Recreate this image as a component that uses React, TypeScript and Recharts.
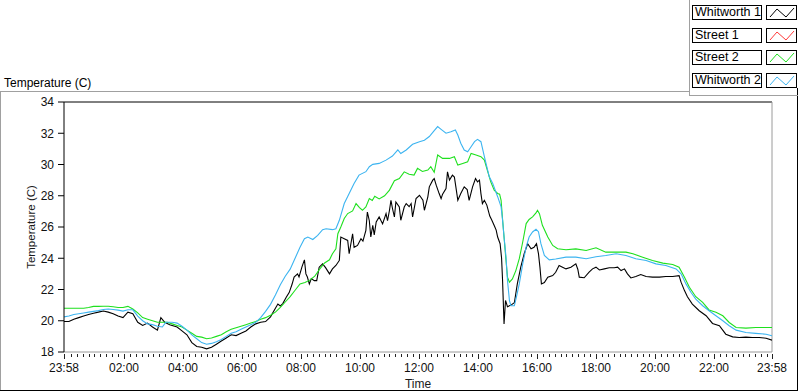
import React from 'react';
import { LineChart, Line, XAxis, YAxis, ReferenceLine, Legend, Label } from 'recharts';

// ---- data (minutes after 23:58, temperature °C) ----
const seriesNames = ['Whitworth 1', 'Street 1', 'Street 2', 'Whitworth 2'];
const seriesColors = ['#000000', '#ff3a3a', '#1ee01e', '#3cb4f0'];

const whitworth1: [number, number][] = [
  [0,19.95],[10,19.95],[20,20.1],[30,20.2],[40,20.3],[50,20.4],[60,20.48],[70,20.55],[80,20.62],[90,20.55],
  [100,20.45],[110,20.3],[120,20.2],[130,20.55],[140,20.45],[150,19.9],[160,19.7],[170,19.85],[180,19.6],[190,19.4],
  [197,20.2],[205,19.9],[215,19.75],[230,19.6],[240,19.35],[250,19.1],[260,18.6],[270,18.35],[280,18.3],[290,18.2],
  [300,18.3],[310,18.5],[320,18.7],[330,18.9],[340,19.1],[350,19.05],[360,19.2],[370,19.35],[380,19.6],[390,19.8],
  [400,19.9],[410,19.95],[420,20.25],[430,20.8],[435,21.07],[440,20.95],[445,21.1],[452,21.5],[458,21.8],[464,22.35],
  [468,22.8],[475,23.0],[478,22.8],[484,23.45],[489,23.9],[492,23.0],[495,22.8],[499,22.36],[503,22.7],[509,22.57],
  [514,22.57],[519,23.43],[526,23.64],[532,23.4],[540,23.0],[546,23.32],[553,23.54],[560,23.86],[563,25.36],[570,25.25],
  [577,25.14],[580,24.29],[587,25.57],[590,24.7],[597,24.82],[604,25.25],[608,25.1],[614,25.79],[617,26.96],[621,26.4],
  [624,25.36],[628,26.11],[631,25.5],[635,26.32],[641,26.64],[648,26.2],[655,26.86],[658,26.4],[662,27.07],[665,27.71],
  [668,27.2],[672,26.64],[675,27.6],[682,27.28],[685,26.43],[692,27.28],[696,27.5],[702,27.3],[706,27.5],[709,26.64],
  [716,27.82],[723,28.03],[730,27.71],[733,27.07],[740,27.93],[743,28.57],[750,29.0],[753,29.1],[757,28.68],[763,28.14],
  [767,27.82],[770,28.1],[777,28.46],[780,29.53],[784,29.0],[790,29.32],[794,29.2],[797,28.57],[801,27.71],[807,28.14],
  [814,28.57],[820,28.4],[824,27.71],[831,28.57],[837,29.1],[841,28.89],[845,29.0],[848,28.14],[851,27.5],[855,27.71],
  [860,27.4],[866,26.7],[870,26.45],[875,26.1],[879,25.8],[882,25.36],[887,24.93],[890,24.0],[892,22.58],[895,19.79],
  [898,21.3],[902,20.9],[909,21.0],[916,21.15],[922,22.36],[929,23.43],[936,24.29],[943,24.93],[950,24.61],[956,24.7],
  [961,24.93],[965,24.3],[968,23.43],[971,22.36],[977,22.45],[984,22.79],[994,22.89],[1000,23.1],[1007,23.54],[1014,23.43],
  [1021,23.32],[1031,23.43],[1041,23.64],[1045,23.3],[1048,22.79],[1058,22.75],[1068,23.11],[1075,23.32],[1082,23.43],[1089,23.25],
  [1099,23.32],[1109,23.39],[1119,23.39],[1126,23.43],[1133,23.21],[1140,23.32],[1146,23.0],[1153,22.74],[1163,22.83],[1173,22.96],
  [1184,22.83],[1197,22.79],[1211,22.79],[1224,22.83],[1238,22.83],[1251,22.89],[1255,22.47],[1262,21.93],[1268,21.54],[1278,21.07],
  [1292,20.64],[1306,20.32],[1319,19.83],[1333,19.68],[1346,19.14],[1360,18.97],[1373,18.93],[1387,18.95],[1400,18.93],[1414,18.93],
  [1428,18.88],[1440,18.76],
];

const street1: [number, number][] = [];

const street2: [number, number][] = [
  [0,20.8],[10,20.8],[20,20.8],[30,20.8],[40,20.8],[50,20.85],[60,20.92],[70,20.92],[80,20.93],[90,20.93],
  [100,20.9],[110,20.85],[120,20.85],[130,20.92],[140,20.75],[150,20.5],[160,20.2],[170,20.1],[180,20.0],[190,19.9],
  [200,19.9],[210,19.9],[220,19.8],[230,19.7],[240,19.6],[250,19.4],[260,19.2],[270,19.0],[280,18.95],[290,18.85],
  [300,18.9],[310,19.0],[320,19.1],[330,19.3],[340,19.45],[350,19.55],[360,19.65],[370,19.75],[380,19.85],[390,19.95],
  [400,20.1],[410,20.2],[420,20.35],[430,20.55],[440,20.85],[450,21.2],[460,21.55],[470,21.95],[480,22.35],[490,22.45],
  [500,22.6],[510,22.85],[520,23.3],[530,23.7],[540,23.9],[546,24.29],[553,24.61],[557,25.57],[563,26.0],[570,26.54],
  [577,26.86],[587,27.03],[594,27.5],[601,27.24],[607,27.07],[614,27.29],[621,27.82],[627,27.7],[632,27.97],[641,27.8],
  [652,28.0],[662,28.36],[672,28.96],[682,29.1],[692,29.53],[702,29.38],[712,29.32],[719,29.75],[729,29.55],[740,29.64],
  [746,29.86],[753,29.5],[760,30.61],[770,30.39],[784,30.39],[794,30.5],[801,29.96],[811,30.07],[821,30.18],[828,30.71],
  [838,30.61],[848,30.5],[855,30.28],[862,29.53],[868,28.89],[875,28.36],[882,28.15],[886,28.1],[889,27.7],[892,26.5],
  [895,25.36],[899,23.86],[902,22.79],[906,22.47],[912,22.68],[919,23.21],[926,23.97],[933,25.04],[940,26.22],[946,26.48],
  [953,26.65],[960,26.9],[963,27.07],[967,26.85],[973,26.11],[984,25.36],[994,24.82],[1004,24.61],[1021,24.54],[1041,24.6],
  [1062,24.5],[1082,24.67],[1102,24.39],[1123,24.39],[1143,24.39],[1157,24.29],[1177,24.07],[1197,23.86],[1218,23.69],[1238,23.6],
  [1251,23.43],[1262,22.79],[1272,22.14],[1285,21.54],[1299,21.18],[1312,20.69],[1326,20.54],[1340,20.32],[1353,19.89],[1367,19.57],
  [1387,19.53],[1407,19.57],[1428,19.57],[1440,19.57],
];

const whitworth2: [number, number][] = [
  [0,20.25],[10,20.3],[20,20.4],[30,20.45],[40,20.5],[50,20.55],[60,20.6],[70,20.65],[80,20.72],[90,20.75],
  [100,20.72],[110,20.68],[120,20.62],[130,20.7],[140,20.7],[150,20.3],[160,20.0],[170,19.8],[180,19.75],[190,19.65],
  [200,19.6],[207,19.9],[220,19.9],[230,19.85],[240,19.65],[250,19.4],[260,19.1],[270,18.85],[280,18.6],[290,18.5],
  [300,18.55],[310,18.65],[320,18.8],[330,19.0],[340,19.2],[350,19.3],[360,19.45],[370,19.6],[380,19.75],[390,19.9],
  [400,20.2],[410,20.6],[420,21.05],[430,21.65],[440,22.3],[450,22.85],[460,23.3],[470,24.0],[480,24.7],[489,25.25],
  [496,25.36],[506,25.2],[516,25.46],[526,25.83],[533,25.89],[546,25.83],[553,25.89],[560,26.43],[570,27.5],[580,28.14],
  [590,28.79],[600,29.32],[614,29.54],[621,29.86],[628,30.01],[641,30.07],[655,30.28],[668,30.54],[679,30.93],[685,30.7],
  [696,30.93],[709,31.29],[723,31.46],[733,31.55],[743,31.79],[753,32.17],[760,32.43],[767,32.25],[777,32.0],[787,32.1],
  [796,32.21],[801,31.89],[807,31.36],[814,30.93],[821,30.82],[828,31.14],[835,31.46],[841,31.61],[848,31.46],[855,30.5],
  [865,29.21],[872,28.79],[882,27.94],[889,27.29],[892,26.43],[895,25.36],[899,24.08],[902,22.58],[906,21.29],[909,20.96],
  [916,20.96],[920,21.5],[926,22.36],[933,23.64],[940,24.72],[946,25.36],[953,25.68],[960,25.85],[965,25.7],[970,24.93],
  [977,24.18],[987,23.9],[1000,23.95],[1021,24.07],[1041,24.07],[1062,23.97],[1082,24.1],[1102,24.18],[1123,24.29],[1143,24.18],
  [1163,23.97],[1184,23.86],[1204,23.64],[1224,23.54],[1245,23.32],[1255,23.0],[1265,22.36],[1275,21.82],[1285,21.39],[1299,20.96],
  [1312,20.64],[1326,20.32],[1340,20.0],[1353,19.68],[1367,19.4],[1387,19.25],[1407,19.19],[1428,19.14],[1440,19.04],
];

const allSeries = [whitworth1, street1, street2, whitworth2];

// ---- axes ----
const majorTickMinutes = [0, 122, 242, 362, 482, 602, 722, 842, 962, 1082, 1202, 1322, 1440];
const majorTickLabels = ['23:58', '02:00', '04:00', '06:00', '08:00', '10:00', '12:00', '14:00', '16:00', '18:00', '20:00', '22:00', '23:58'];
const minorTickMinutes: number[] = [];
for (let m = 14; m < 1440; m += 12) {
  if (!majorTickMinutes.includes(m)) minorTickMinutes.push(m);
}
const xTicks = [...majorTickMinutes, ...minorTickMinutes].sort((a, b) => a - b);
const yTicks = [18, 20, 22, 24, 26, 28, 30, 32, 34];

const toRows = (pairs: [number, number][]) => pairs.map(([min, temp]) => ({ min, temp }));

const FONT = '"Liberation Sans", Arial, sans-serif';

const XTick = (props: any) => {
  const { x, y, payload } = props;
  const idx = majorTickMinutes.indexOf(payload.value);
  const major = idx >= 0;
  const px = Math.round(x) + 0.5;
  return (
    <g>
      <line x1={px} x2={px} y1={y + 2} y2={y + (major ? 7 : 4.5)} stroke="#222" strokeWidth={1} shapeRendering="crispEdges" />
      {major && (
        <text x={x} y={y + 20} textAnchor="middle" fontSize={12} fill="#111" fontFamily={FONT}>
          {majorTickLabels[idx]}
        </text>
      )}
    </g>
  );
};

const LegendIcon = ({ color }: { color: string }) => (
  <svg width={29} height={13} style={{ display: 'block' }}>
    <polyline points="3,11 10,3 19,11 27,2" fill="none" stroke={color} strokeWidth={1} />
  </svg>
);

const LegendContent = () => (
  <div style={{ position: 'relative', width: 112, height: 96, fontFamily: FONT }}>
    <div style={{ position: 'absolute', left: 1, top: 0, width: 1, height: 96, background: '#a0a0a0' }} />
    <div style={{ position: 'absolute', left: 1, top: 95, width: 109, height: 1, background: '#a0a0a0' }} />
    {seriesNames.map((name, i) => (
      <React.Fragment key={name}>
        <div
          style={{
            position: 'absolute', left: 4, top: 5 + i * 22.6, width: 70, height: 15, boxSizing: 'border-box',
            border: '1px solid #000', fontSize: 12.5, lineHeight: '13px', paddingLeft: 2, color: '#000', background: '#fff',
            whiteSpace: 'nowrap', overflow: 'hidden',
          }}
        >
          {name}
        </div>
        <div
          style={{
            position: 'absolute', left: 78, top: 5 + i * 22.6, width: 31, height: 15, boxSizing: 'border-box',
            border: '1px solid #000', background: '#fff',
          }}
        >
          <LegendIcon color={seriesColors[i]} />
        </div>
      </React.Fragment>
    ))}
  </div>
);

const YLabel = (props: any) => {
  const vb = props.viewBox || { x: 4, y: 102, width: 60, height: 250 };
  const cx = 31;
  const cy = vb.y + vb.height / 2;
  return (
    <text x={cx} y={cy} transform={`rotate(-90 ${cx} ${cy})`} textAnchor="middle" dominantBaseline="central"
      fontSize={11.5} fill="#1a1a1a" fontFamily={FONT}>
      Temperature (C)
    </text>
  );
};

export default function App() {
  return (
    <div style={{ position: 'absolute', left: 0, top: 0, width: 800, height: 392, background: '#fff', fontFamily: FONT, overflow: 'hidden' }}>
      {/* outer frame */}
      <div style={{ position: 'absolute', left: 0, top: 91, width: 689, height: 1, background: '#a0a0a0' }} />
      <div style={{ position: 'absolute', left: 0, top: 91, width: 1, height: 300, background: '#a0a0a0' }} />
      <div style={{ position: 'absolute', left: 0, top: 390, width: 798, height: 1, background: '#000' }} />
      <div style={{ position: 'absolute', left: 797, top: 88, width: 1, height: 303, background: '#000' }} />
      <div style={{ position: 'absolute', left: 4, top: 76, fontSize: 12, lineHeight: '14px', color: '#000', whiteSpace: 'nowrap' }}>
        Temperature (C)
      </div>
      <div style={{ position: 'absolute', left: 0, top: 0 }}>
        <LineChart width={800} height={392} margin={{ top: 102, right: 28, bottom: 0, left: 4 }}>
          <XAxis
            dataKey="min"
            type="number"
            domain={[0, 1440]}
            ticks={xTicks}
            interval={0}
            tickLine={false}
            tickSize={0}
            tickMargin={0}
            tick={<XTick />}
            axisLine={{ stroke: '#9a9a9a' }}
            height={40}
            allowDataOverflow
          >
            <Label value="Time" position="insideBottom" offset={4} fontSize={12} fill="#1a1a1a" />
          </XAxis>
          <YAxis
            type="number"
            domain={[18, 34]}
            ticks={yTicks}
            interval={0}
            width={60}
            tickSize={6}
            tickMargin={4}
            tick={{ fill: '#111', fontSize: 12 }}
            tickLine={{ stroke: '#000' }}
            axisLine={{ stroke: '#000' }}
            allowDataOverflow
          >
            <Label content={<YLabel />} />
          </YAxis>
          <ReferenceLine y={34} stroke="#000" strokeWidth={1} />
          <ReferenceLine x={1440} stroke="#9a9a9a" strokeWidth={1} />
          {allSeries.map((s, i) => (
            <Line
              key={seriesNames[i]}
              name={seriesNames[i]}
              data={toRows(s)}
              dataKey="temp"
              type="linear"
              stroke={seriesColors[i]}
              strokeWidth={1.1}
              dot={false}
              activeDot={false}
              isAnimationActive={false}
            />
          ))}
          <Legend
            layout="horizontal"
            verticalAlign="middle"
            align="center"
            content={<LegendContent />}
            wrapperStyle={{ position: 'absolute', left: 688, top: 0, width: 112, height: 96 }}
          />
        </LineChart>
      </div>
    </div>
  );
}
